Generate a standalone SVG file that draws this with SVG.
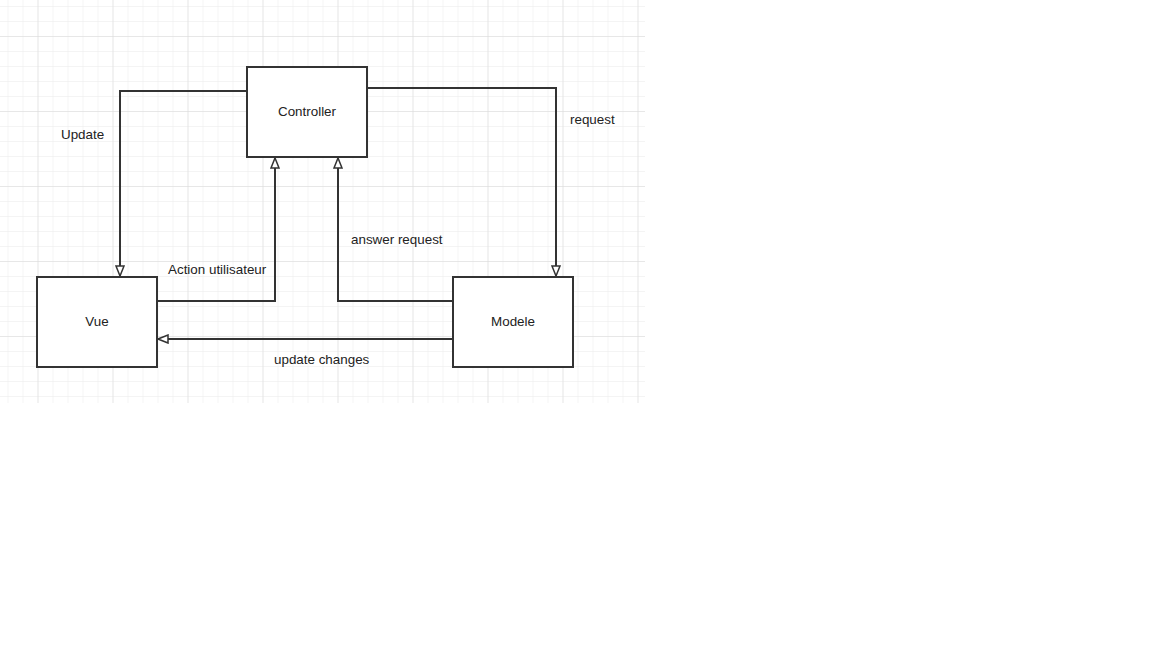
<svg xmlns="http://www.w3.org/2000/svg" width="1152" height="648" viewBox="0 0 1152 648">
  <defs>
    <!-- minor grid: 15px cells -->
    <pattern id="gridMinor" x="7.5" y="6" width="15" height="15" patternUnits="userSpaceOnUse">
      <path d="M0 0 H15 M0 0 V15" fill="none" stroke="#eaeaea" stroke-width="1"/>
    </pattern>
    <!-- major grid: every 5 cells -->
    <pattern id="gridMajor" x="37.5" y="36" width="75" height="75" patternUnits="userSpaceOnUse">
      <path d="M0 0 H75 M0 0 V75" fill="none" stroke="#dadada" stroke-width="1"/>
    </pattern>
    <marker id="openArrow" viewBox="0 0 12 10" refX="11" refY="5" markerWidth="12" markerHeight="10" markerUnits="userSpaceOnUse" orient="auto">
      <path d="M1 1 L11 5 L1 9 Z" fill="#ffffff" stroke="#333333" stroke-width="1.5" stroke-linejoin="miter"/>
    </marker>
    <style>
      .box { fill: #ffffff; stroke: #333333; stroke-width: 2; }
      .edge { fill: none; stroke: #333333; stroke-width: 2; marker-end: url(#openArrow); }
      .label { font-family: "Liberation Sans", Arial, sans-serif; font-size: 13.4px; fill: #222222; }
      .center { text-anchor: middle; dominant-baseline: central; }
    </style>
  </defs>

  <rect x="0" y="0" width="1152" height="648" fill="#ffffff"/>
  <!-- background grid -->
  <rect x="0" y="0" width="645" height="403" fill="url(#gridMinor)"/>
  <rect x="0" y="0" width="645" height="403" fill="url(#gridMajor)"/>

  <!-- connectors -->
  <g id="connectors">
    <path class="edge" d="M247 91 H120 V276"/>
    <path class="edge" d="M367 88 H556 V276"/>
    <path class="edge" d="M157 301 H275 V158"/>
    <path class="edge" d="M453 301 H338 V158"/>
    <path class="edge" d="M453 339 H158"/>
    <text class="label" x="61" y="139">Update</text>
    <text class="label" x="570" y="124">request</text>
    <text class="label" x="168" y="274">Action utilisateur</text>
    <text class="label" x="351" y="244">answer request</text>
    <text class="label" x="274" y="364">update changes</text>
  </g>

  <g id="controller">
    <rect class="box" x="247" y="67" width="120" height="90"/>
    <text class="label center" x="307" y="111">Controller</text>
  </g>
  <g id="vue">
    <rect class="box" x="37" y="277" width="120" height="90"/>
    <text class="label center" x="97" y="321">Vue</text>
  </g>
  <g id="modele">
    <rect class="box" x="453" y="277" width="120" height="90"/>
    <text class="label center" x="513" y="321">Modele</text>
  </g>
</svg>
